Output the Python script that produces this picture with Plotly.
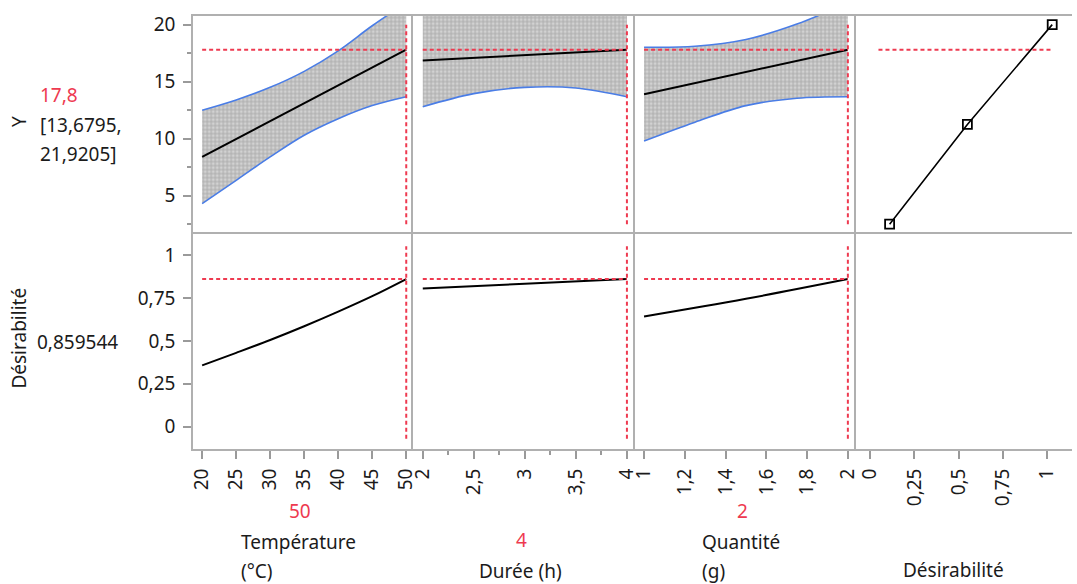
import plotly.graph_objects as go

W, H = 1077, 584

# ---- Factor profiles (response Y with confidence band) ----
temp_x = [20, 25, 30, 35, 40, 45, 50]
temp_pred_x = [20, 50]
temp_pred = [8.4, 17.8]
temp_lo = [4.3, 6.35, 8.4, 10.3, 11.75, 12.9, 13.68]
temp_hi = [12.5, 13.4, 14.5, 15.9, 17.7, 19.9, 21.92]
temp_des = [0.357, 0.43, 0.505, 0.585, 0.67, 0.76, 0.8595]

dur_x = [2, 2.5, 3, 3.5, 4]
dur_pred_x = [2, 4]
dur_pred = [16.85, 17.8]
dur_lo = [12.8, 13.95, 14.5, 14.45, 13.68]
dur_hi = [21.1, 21.0, 21.0, 21.1, 21.92]
dur_des_x = [2, 3, 4]
dur_des = [0.804, 0.832, 0.8595]

qty_x = [1, 1.25, 1.5, 1.75, 2]
qty_pred_x = [1, 2]
qty_pred = [13.9, 17.8]
qty_lo = [9.8, 11.45, 12.9, 13.55, 13.68]
qty_hi = [18.02, 18.1, 18.7, 20.05, 21.92]
qty_des_x = [1, 1.5, 2]
qty_des = [0.642, 0.745, 0.8595]

# Desirability function of Y (desirability on x, Y on y)
desfun_d = [0.11, 0.55, 1.03]
desfun_y = [2.5, 11.25, 20]

# Current settings and results
cur_temp, cur_dur, cur_qty = 50, 4, 2
y_pred = 17.8
y_ci = [13.6795, 21.9205]
des_value = 0.859544

# Tick labels
temp_ticks = [20, 25, 30, 35, 40, 45, 50]
dur_ticks = [2, 2.5, 3, 3.5, 4]
qty_ticks = [1, 1.2, 1.4, 1.6, 1.8, 2]
des_ticks = [0, 0.25, 0.5, 0.75, 1]
y_ticks = [5, 10, 15, 20]


def fr(v):
    """French decimal formatting for tick labels."""
    return ("%g" % v).replace(".", ",")


FONT = "Noto Sans"
FS = 19
TXT = "#1b1b1b"
RED = "#ee3a50"
BLUE = "#4a7de6"
FRAME = "#b0b0b0"
TICKC = "#9a9a9a"

# panel geometry in pixels
col_px = [(190, 412), (412, 636), (636, 859), (859, 1077)]
row_px = [(11.7, 230), (230, 448)]

x_ranges = [[18.69, 51.02], [1.906, 4.08], [0.956, 2.04], [-0.080, 1.142]]
y_ranges = [[1.78, 20.79], [-0.129, 1.131]]


def xdom(c):
    a, b = col_px[c]
    return [a / W, min(b / W, 1.0)]


def ydom(r):
    a, b = row_px[r]
    return [1 - b / H, 1 - a / H]


fig = go.Figure()

red_line = dict(color=RED, width=2, dash="4px,3px")


def ax(r, c):
    n = r * 4 + c + 1
    return ("x%d" % n if n > 1 else "x"), ("y%d" % n if n > 1 else "y")


bands = [
    (temp_x, temp_lo, temp_hi, temp_pred_x, temp_pred, cur_temp),
    (dur_x, dur_lo, dur_hi, dur_pred_x, dur_pred, cur_dur),
    (qty_x, qty_lo, qty_hi, qty_pred_x, qty_pred, cur_qty),
]
des_curves = [
    (temp_x, temp_des),
    (dur_des_x, dur_des),
    (qty_des_x, qty_des),
]

for c, (bx, lo, hi, px_, pv, cur) in enumerate(bands):
    xa, ya = ax(0, c)
    fig.add_trace(go.Scatter(x=bx, y=lo, mode="lines", xaxis=xa, yaxis=ya,
                             line=dict(color=BLUE, width=1.6, shape="spline"),
                             showlegend=False, hoverinfo="skip"))
    fig.add_trace(go.Scatter(x=bx, y=hi, mode="lines", xaxis=xa, yaxis=ya,
                             line=dict(color=BLUE, width=1.6, shape="spline"),
                             fill="tonexty", fillcolor="#bdbdbd",
                             fillpattern=dict(shape="+", size=4, solidity=0.4,
                                              fgcolor="#7c7c7c", bgcolor="#d2d2d2"),
                             showlegend=False, hoverinfo="skip"))
    fig.add_trace(go.Scatter(x=px_, y=pv, mode="lines", xaxis=xa, yaxis=ya,
                             line=dict(color="black", width=2),
                             showlegend=False))
    # current-value crosshair
    fig.add_trace(go.Scatter(x=[bx[0], bx[-1]], y=[y_pred, y_pred], mode="lines",
                             xaxis=xa, yaxis=ya, line=red_line, showlegend=False,
                             hoverinfo="skip"))
    fig.add_trace(go.Scatter(x=[cur, cur], y=[desfun_y[0], desfun_y[-1]], mode="lines",
                             xaxis=xa, yaxis=ya, line=red_line, showlegend=False,
                             hoverinfo="skip"))

    # desirability row
    dx, dv = des_curves[c]
    xb, yb = ax(1, c)
    fig.add_trace(go.Scatter(x=dx, y=dv, mode="lines", xaxis=xb, yaxis=yb,
                             line=dict(color="black", width=2, shape="spline"),
                             showlegend=False))
    fig.add_trace(go.Scatter(x=[bx[0], bx[-1]], y=[des_value, des_value], mode="lines",
                             xaxis=xb, yaxis=yb, line=red_line, showlegend=False,
                             hoverinfo="skip"))
    fig.add_trace(go.Scatter(x=[cur, cur], y=[-0.07, 1.05], mode="lines",
                             xaxis=xb, yaxis=yb, line=red_line, showlegend=False,
                             hoverinfo="skip"))

# desirability function panel
xa, ya = ax(0, 3)
fig.add_trace(go.Scatter(x=[0.047, desfun_d[-1]], y=[y_pred, y_pred], mode="lines",
                         xaxis=xa, yaxis=ya, line=red_line, showlegend=False,
                         hoverinfo="skip"))
fig.add_trace(go.Scatter(x=desfun_d, y=desfun_y, mode="lines+markers",
                         xaxis=xa, yaxis=ya,
                         line=dict(color="black", width=1.6),
                         marker=dict(symbol="square-open", size=9,
                                     color="black", line=dict(width=1.8)),
                         showlegend=False))
# empty bottom-right panel
xb, yb = ax(1, 3)
fig.add_trace(go.Scatter(x=[None], y=[None], xaxis=xb, yaxis=yb, showlegend=False))

tickfont = dict(family=FONT, size=FS, color=TXT)
x_tick_sets = [temp_ticks, dur_ticks, qty_ticks, des_ticks]
x_minor = [None, 0.25, None, None]

layout = dict(
    width=W, height=H,
    margin=dict(l=0, r=0, t=0, b=0),
    paper_bgcolor="white", plot_bgcolor="white",
    showlegend=False,
    font=dict(family=FONT, size=FS, color=TXT),
)

for r in range(2):
    for c in range(4):
        n = r * 4 + c + 1
        xk = "xaxis" if n == 1 else "xaxis%d" % n
        yk = "yaxis" if n == 1 else "yaxis%d" % n
        xa, ya = ax(r, c)
        # top row draws top+bottom frame lines, bottom row only its bottom line
        xd = dict(domain=xdom(c), range=x_ranges[c], anchor=ya,
                  showgrid=False, zeroline=False,
                  showline=True, mirror=(r == 0), linecolor=FRAME, linewidth=2,
                  fixedrange=True)
        if r == 1:
            xd.update(tickmode="array", tickvals=x_tick_sets[c],
                      ticktext=[fr(v) for v in x_tick_sets[c]],
                      ticks="outside", ticklen=8, tickwidth=1.5, tickcolor=TICKC,
                      tickangle=-90, tickfont=tickfont, ticklabelstandoff=2)
            if x_minor[c]:
                xd["minor"] = dict(dtick=x_minor[c], tick0=2, ticks="outside",
                                   ticklen=4, tickwidth=1.5, tickcolor=TICKC,
                                   showgrid=False)
        else:
            xd.update(showticklabels=False, ticks="")
        # each panel draws only its left frame line; neighbours supply the right one
        yd = dict(domain=ydom(r), range=y_ranges[r], anchor=xa,
                  showgrid=False, zeroline=False,
                  showline=True, mirror=False, linecolor=FRAME, linewidth=2,
                  fixedrange=True)
        if c == 0:
            if r == 0:
                yd.update(tickmode="array", tickvals=y_ticks,
                          ticktext=[fr(v) for v in y_ticks],
                          minor=dict(dtick=2.5, tick0=0, ticks="outside", ticklen=4,
                                     tickwidth=1.5, tickcolor=TICKC, showgrid=False))
            else:
                yd.update(tickmode="array", tickvals=des_ticks,
                          ticktext=[fr(v) for v in des_ticks])
            yd.update(ticks="outside", ticklen=8, tickwidth=1.5, tickcolor=TICKC,
                      tickfont=tickfont, ticklabelstandoff=4)
        else:
            yd.update(showticklabels=False, ticks="")
        layout[xk] = xd
        layout[yk] = yd

fig.update_layout(**layout)


def ann(text, x, y, color=TXT, xanchor="left", yanchor="middle", angle=0, size=FS):
    fig.add_annotation(text=text, x=x / W, y=1 - y / H, xref="paper", yref="paper",
                       xanchor=xanchor, yanchor=yanchor, showarrow=False,
                       textangle=angle, borderpad=0,
                       font=dict(family=FONT, size=size, color=color))


# response labels on the left
ann("Y", 14, 118, xanchor="center", angle=-90)
ann(fr(y_pred), 34, 92, color=RED)
ann("[" + fr(y_ci[0]) + ",", 34, 122)
ann(fr(y_ci[1]) + "]", 34, 151)
ann("Désirabilité", 14, 336, xanchor="center", angle=-90)
ann(("%g" % des_value).replace(".", ","), 31, 340)

# factor labels under the columns
ann(str(cur_temp), 298, 510, color=RED, xanchor="center")
ann("Température", 237, 542)
ann("(°C)", 237, 571)
ann(str(cur_dur), 521, 540, color=RED, xanchor="center")
ann("Durée (h)", 477, 571)
ann(str(cur_qty), 744, 510, color=RED, xanchor="center")
ann("Quantité", 703, 542)
ann("(g)", 703, 571)
ann("Désirabilité", 905, 570)

fig.write_html("out.html")
